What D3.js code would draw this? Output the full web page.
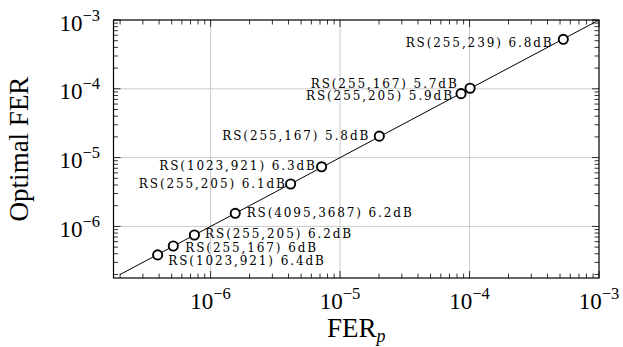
<!DOCTYPE html>
<html>
<head>
<meta charset="utf-8">
<script src="https://cdn.jsdelivr.net/npm/d3@7"></script>
<style>
  html, body { margin: 0; padding: 0; background: #fff; }
  svg { display: block; }
</style>
</head>
<body>
<svg id="chart" width="623" height="347"></svg>
<script>
// ---- data ----
const codes = ["RS(255,239)", "RS(255,167)", "RS(255,205)", "RS(255,167)", "RS(1023,921)",
               "RS(255,205)", "RS(4095,3687)", "RS(255,205)", "RS(255,167)", "RS(1023,921)"];
const snrLabels = ["6.8dB", "5.7dB", "5.9dB", "5.8dB", "6.3dB", "6.1dB", "6.2dB", "6.2dB", "6dB", "6.4dB"];
const ferP = [5.30e-4, 1.01e-4, 8.6e-5, 2.01e-5, 7.2e-6, 4.15e-6, 1.55e-6, 7.5e-7, 5.15e-7, 3.9e-7];
const optimalFer = [5.24e-4, 1.02e-4, 8.5e-5, 2.05e-5, 7.35e-6, 4.13e-6, 1.55e-6, 7.5e-7, 5.19e-7, 3.85e-7];
const xTickExps = [-6, -5, -4, -3];
const yTickExps = [-6, -5, -4, -3];
const xDomain = [Math.pow(10, -6.75), 1e-3];
const yDomain = [Math.pow(10, -6.75), 1e-3];
const refLine = [2e-7, 1e-3];
const xTitle = "FER";
const xTitleSub = "p";
const yTitle = "Optimal FER";

// ---- label placement (style, not data) ----
const labelPlacement = [
  ["end", -11.6, 7.4], ["end", -13.3, -0.5], ["end", -9, 6.2], ["end", -11, 4],
  ["end", -6.7, 3.3], ["end", -5.7, 3.7], ["start", 11.4, 3.4], ["start", 10.7, 3.3],
  ["start", 12, 5.7], ["start", 10.6, 10]
];

const L = 113.5, R = 599, T = 20, B = 278;
const svg = d3.select("#chart");
const x = d3.scaleLog().domain(xDomain).range([L, R]);
const y = d3.scaleLog().domain(yDomain).range([B, T]);

const serif = "'Liberation Serif', 'Times New Roman', serif";
const labelFont = "'DejaVu Serif', serif";

// minor tick values
function minors(domain) {
  const out = [];
  for (let e = -8; e <= -2; e++) {
    for (let m = 2; m <= 9; m++) {
      const v = m * Math.pow(10, e);
      if (v >= domain[0] && v <= domain[1]) out.push(v);
    }
  }
  return out;
}
const majorX = xTickExps.map(e => Math.pow(10, e));
const majorY = yTickExps.map(e => Math.pow(10, e));

// grid
const grid = svg.append("g").attr("stroke", "#cccccc").attr("stroke-width", 1);
majorX.filter(v => x(v) > L + 1 && x(v) < R - 1).forEach(v => {
  grid.append("line").attr("x1", x(v)).attr("x2", x(v)).attr("y1", T).attr("y2", B);
});
majorY.filter(v => y(v) > T + 1 && y(v) < B - 1).forEach(v => {
  grid.append("line").attr("y1", y(v)).attr("y2", y(v)).attr("x1", L).attr("x2", R);
});

// ticks (inward on all four sides)
const tickG = svg.append("g").attr("stroke", "#000").attr("stroke-width", 0.8);
const majLen = 7, minLen = 4.5;
function xTicks(vals, len) {
  vals.forEach(v => {
    const px = x(v);
    tickG.append("line").attr("x1", px).attr("x2", px).attr("y1", B).attr("y2", B - len);
    tickG.append("line").attr("x1", px).attr("x2", px).attr("y1", T).attr("y2", T + len);
  });
}
function yTicks(vals, len) {
  vals.forEach(v => {
    const py = y(v);
    tickG.append("line").attr("y1", py).attr("y2", py).attr("x1", L).attr("x2", L + len);
    tickG.append("line").attr("y1", py).attr("y2", py).attr("x1", R).attr("x2", R - len);
  });
}
xTicks(minors(xDomain), minLen);
xTicks(majorX, majLen);
yTicks(minors(yDomain), minLen);
yTicks(majorY, majLen);

// frame
svg.append("rect").attr("x", L).attr("y", T).attr("width", R - L).attr("height", B - T)
  .attr("fill", "none").attr("stroke", "#000").attr("stroke-width", 1.2);

// tick labels
xTickExps.forEach(e => {
  const t = svg.append("text").attr("x", x(Math.pow(10, e))).attr("y", 309)
    .attr("text-anchor", "middle").attr("font-family", serif).attr("font-size", 23).attr("fill", "#000");
  t.append("tspan").text("10");
  t.append("tspan").attr("dy", -10).attr("font-size", 16.5).text("\u2212" + Math.abs(e));
});
yTickExps.forEach(e => {
  const t = svg.append("text").attr("x", 100).attr("y", y(Math.pow(10, e)) + 10.5)
    .attr("text-anchor", "end").attr("font-family", serif).attr("font-size", 23).attr("fill", "#000");
  t.append("tspan").text("10");
  t.append("tspan").attr("dy", -10).attr("font-size", 16.5).text("\u2212" + Math.abs(e));
});

// axis titles
const xt = svg.append("text").attr("x", (L + R) / 2).attr("y", 337).attr("text-anchor", "middle")
  .attr("font-family", serif).attr("font-size", 27).attr("fill", "#000");
xt.append("tspan").text(xTitle);
xt.append("tspan").attr("dy", 5).attr("font-size", 18).attr("font-style", "italic").text(xTitleSub);

svg.append("text").attr("transform", `translate(28,${(T + B) / 2}) rotate(-90)`)
  .attr("text-anchor", "middle").attr("font-family", serif).attr("font-size", 27).attr("fill", "#000")
  .text(yTitle);

// reference line y = x
svg.append("line")
  .attr("x1", x(refLine[0])).attr("y1", y(refLine[0]))
  .attr("x2", x(refLine[1])).attr("y2", y(refLine[1]))
  .attr("stroke", "#000").attr("stroke-width", 1);

// points
svg.append("g").selectAll("circle").data(ferP).join("circle")
  .attr("cx", d => x(d)).attr("cy", (d, i) => y(optimalFer[i]))
  .attr("r", 4.6).attr("fill", "#fff").attr("stroke", "#000").attr("stroke-width", 1.9);

// labels
const ls = 1.9;
svg.append("g").selectAll("text").data(ferP).join("text")
  .attr("x", (d, i) => x(d) + labelPlacement[i][1] + (labelPlacement[i][0] === "end" ? ls : 0))
  .attr("y", (d, i) => y(optimalFer[i]) + labelPlacement[i][2])
  .attr("text-anchor", (d, i) => labelPlacement[i][0])
  .attr("font-family", labelFont).attr("font-size", 12).attr("letter-spacing", ls)
  .attr("fill", "#000")
  .text((d, i) => codes[i] + " " + snrLabels[i]);
</script>
</body>
</html>
